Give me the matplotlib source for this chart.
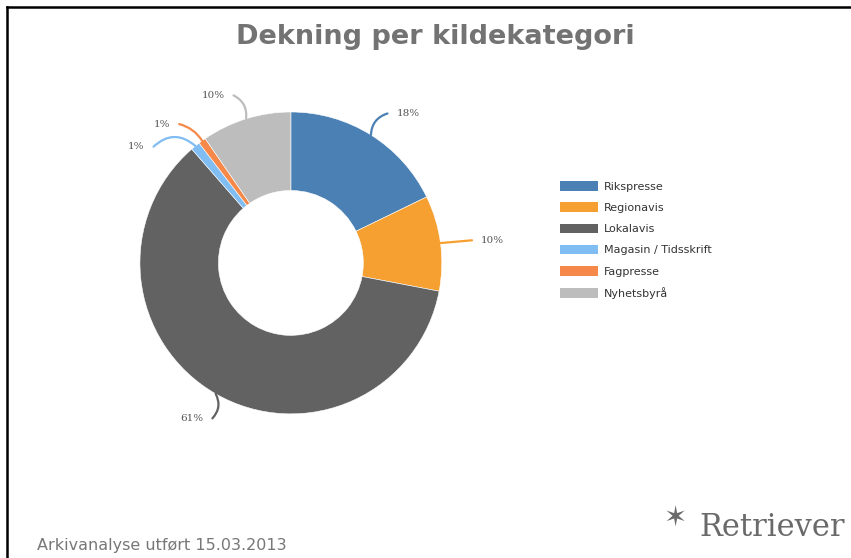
import matplotlib.pyplot as plt
import numpy as np
from matplotlib.patches import Patch
from matplotlib.lines import Line2D

categories = ['Rikspresse', 'Regionavis', 'Lokalavis', 'Magasin / Tidsskrift', 'Fagpresse', 'Nyhetsbyrå']
shares = [17.8, 10.2, 60.6, 1.0, 0.8, 9.6]
colors = ['#4a80b3', '#f6a031', '#626262', '#80bdf3', '#f6894a', '#bdbdbd']

# label text placement (data units) and curve of the leader lines
label_pos = [(0.70, 0.99), (1.26, 0.15), (-0.58, -1.03), (-0.97, 0.77), (-0.80, 0.92), (-0.44, 1.11)]
label_ha = ['left', 'left', 'right', 'right', 'right', 'right']
label_rad = [0.35, 0.0, 0.35, -0.45, -0.2, -0.35]

fig = plt.figure(figsize=(8.51, 5.58), dpi=100)
fig.patch.set_facecolor('white')

ax = fig.add_axes([0.058, 0.096, 0.5676, 0.8656])
wedges, _ = ax.pie(shares, colors=colors, startangle=90, counterclock=False,
                   radius=1.0, wedgeprops=dict(width=0.52, edgecolor='white', linewidth=0.4))
ax.set_xlim(-1.6, 1.6)
ax.set_ylim(-1.6, 1.6)
ax.set_aspect('equal')
ax.axis('off')

for w, s, c, pos, ha, rad in zip(wedges, shares, colors, label_pos, label_ha, label_rad):
    ang = np.deg2rad((w.theta1 + w.theta2) / 2)
    xy = (np.cos(ang), np.sin(ang))
    tx = pos[0] - 0.06 if ha == 'left' else pos[0] + 0.06
    ax.annotate('', xy=xy, xytext=(tx, pos[1]),
                arrowprops=dict(arrowstyle='-', color=c, lw=1.6,
                                connectionstyle=f'arc3,rad={rad}',
                                shrinkA=0, shrinkB=0))
    ax.text(pos[0], pos[1], f'{round(s)}%', ha=ha, va='center',
            fontsize=7.5, color='#555555', family='DejaVu Serif')

fig.text(0.511, 0.934, 'Dekning per kildekategori', ha='center', va='center',
         fontsize=19.5, fontweight='bold', color='#737373')

handles = [Patch(facecolor=c, edgecolor='none') for c in colors]
leg = fig.legend(handles, categories, loc='upper left', bbox_to_anchor=(0.652, 0.685),
                 frameon=False, fontsize=8, handlelength=3.4, handleheight=0.95,
                 labelspacing=0.95, handletextpad=0.5, borderpad=0)
for t in leg.get_texts():
    t.set_color('#333333')

fig.text(0.044, 0.023, 'Arkivanalyse utført 15.03.2013', ha='left', va='center',
         fontsize=11.5, color='#777777')

# logo
fig.text(0.793, 0.070, '✶', ha='center', va='center', fontsize=20, color='#6a6a6a')
fig.text(0.822, 0.054, 'Retriever', ha='left', va='center', fontsize=22,
         color='#6a6a6a', family='DejaVu Serif')

# frame lines at top and left
ytop = 1 - 7 / 558
xl = 7 / 851
fig.add_artist(Line2D([xl, 1], [ytop, ytop], color='black', lw=1.8, transform=fig.transFigure))
fig.add_artist(Line2D([xl, xl], [ytop, 0], color='black', lw=1.8, transform=fig.transFigure))

fig.savefig('out.png', dpi=100)
